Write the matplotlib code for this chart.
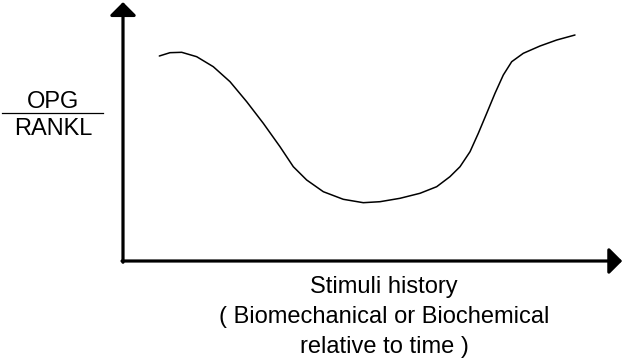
import numpy as np
import matplotlib
matplotlib.use("Agg")
import matplotlib.pyplot as plt
from matplotlib.lines import Line2D

plt.rcParams['font.family'] = ['Liberation Sans', 'DejaVu Sans']

# curve: time (0-100 along x axis) vs OPG/RANKL ratio (0-100)
stimuli = [7.44, 9.63, 12.03, 15.10, 18.50, 21.93, 25.35, 28.75, 32.17, 34.90,
           37.64, 41.05, 45.14, 49.24, 52.66, 56.76, 60.86, 64.28, 66.99, 69.06,
           71.11, 72.81, 74.53, 76.23, 77.93, 79.65, 82.03, 85.45, 88.87, 92.62]
ratio = [82.66, 84.0, 84.15, 82.38, 78.35, 72.30, 64.23, 55.52, 46.09, 38.02,
         32.66, 27.94, 24.88, 23.51, 23.91, 25.28, 27.30, 29.96, 33.99, 38.02,
         44.07, 51.49, 59.56, 67.62, 75.0, 80.36, 83.75, 86.69, 89.11, 91.13]

x_label_lines = ["Stimuli history", "( Biomechanical or Biochemical", "relative to time )"]
y_label_top = "OPG"
y_label_bottom = "RANKL"

W, H = 623, 358
fig = plt.figure(figsize=(W / 100, H / 100), dpi=100)
ax = fig.add_axes([123 / W, (H - 261) / H, (611 - 123) / W, (261 - 13) / H])
ax.set_xlim(0, 100)
ax.set_ylim(0, 100)
ax.axis('off')

ax.plot(stimuli, ratio, color='black', lw=1.1, solid_capstyle='round',
        solid_joinstyle='round')

# axes as arrows
arrow = dict(arrowstyle='-|>,head_length=0.4,head_width=0.4', lw=2.3, color='black',
             shrinkA=0, shrinkB=0, mutation_scale=20)
ax.annotate('', xy=(0, 104.4), xytext=(0, -0.5), arrowprops=arrow, annotation_clip=False)
ax.annotate('', xy=(102.3, 0), xytext=(-0.2, 0), arrowprops=arrow, annotation_clip=False)


def fx(px):
    return px / W


def fy(py):
    return 1 - py / H


fs = 17
fig.text(fx(53), fy(108), y_label_top, ha='center', va='baseline', fontsize=fs)
fig.text(fx(53), fy(135), y_label_bottom, ha='center', va='baseline', fontsize=fs)
fig.add_artist(Line2D([fx(2), fx(103)], [fy(113), fy(113)], color='black', lw=0.9))

for line, base in zip(x_label_lines, [293, 323, 353]):
    fig.text(fx(384), fy(base), line, ha='center', va='baseline', fontsize=fs)

fig.savefig('out.png', dpi=100)
